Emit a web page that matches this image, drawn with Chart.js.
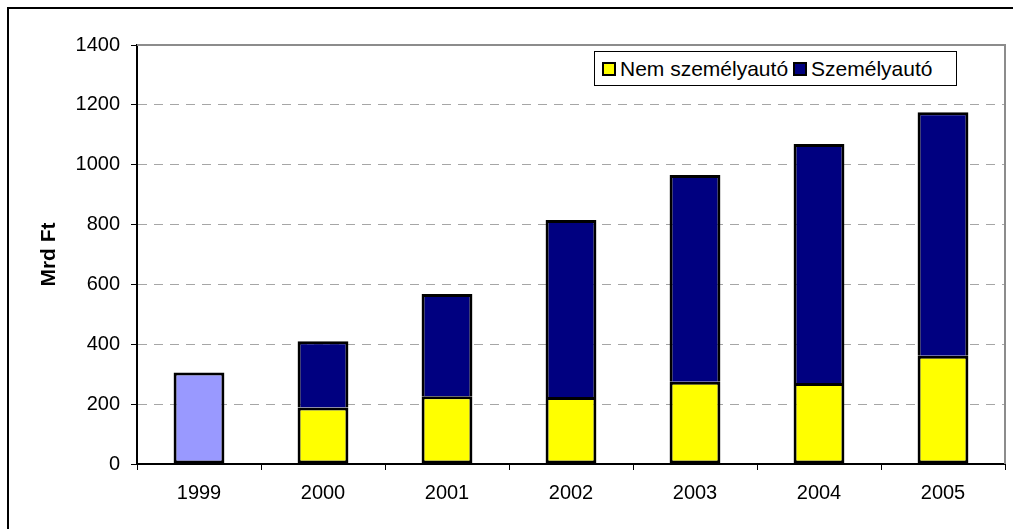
<!DOCTYPE html>
<html lang="hu">
<head>
<meta charset="utf-8">
<title>Mrd Ft</title>
<script src="https://cdn.jsdelivr.net/npm/chart.js@4/dist/chart.umd.min.js"></script>
<style>
  html, body { margin: 0; padding: 0; background: #fff; }
  #wrap { position: relative; width: 1013px; height: 529px; overflow: hidden; }
  #frame { position: absolute; left: 7px; top: 7px; width: 1030px; height: 540px; border: 2px solid #000; box-sizing: border-box; pointer-events: none; }
  #chart { position: absolute; left: 0; top: 0; }
  #legend {
    position: absolute; left: 594px; top: 51px; width: 363px; height: 35px;
    border: 1px solid #000; box-sizing: border-box; background: #fff;
    font: 21px Arial, "Liberation Sans", sans-serif; color: #000;
    display: flex; align-items: center; padding-left: 7px; white-space: nowrap;
  }
  #legend .item { display: flex; align-items: center; margin-right: 5px; }
  #legend .box { width: 14px; height: 14px; border: 2px solid #000; box-sizing: border-box; margin-right: 4px; }
</style>
</head>
<body>
<div id="wrap">
  <canvas id="chart" width="1013" height="529"></canvas>
  <div id="legend"></div>
  <div id="frame"></div>
</div>
<script>
// years on the x axis
const years = ['1999', '2000', '2001', '2002', '2003', '2004', '2005'];
// 1999: only the total is known
const total1999 = [306, null, null, null, null, null, null];
// Mrd Ft
const nemSzemelyauto = [null, 189, 226, 224, 275, 271, 362];
const szemelyauto = [null, 221, 342, 591, 691, 798, 813];
const yTicks = [0, 200, 400, 600, 800, 1000, 1200, 1400];

const FONT = 'Arial, "Liberation Sans", sans-serif';

// grey frame on top and right of the plot area
const plotFrame = {
  id: 'plotFrame',
  afterDatasetsDraw(chart) {
    const { ctx, chartArea: a } = chart;
    ctx.save();
    ctx.strokeStyle = '#8c8c8c';
    ctx.lineWidth = 2;
    ctx.beginPath();
    ctx.moveTo(a.left, a.top);
    ctx.lineTo(a.right, a.top);
    ctx.lineTo(a.right, a.bottom);
    ctx.stroke();
    ctx.restore();
  }
};

const chart = new Chart(document.getElementById('chart'), {
  type: 'bar',
  data: {
    labels: years,
    datasets: [
      {
        label: 'Összesen',
        data: total1999,
        backgroundColor: '#9999ff',
        borderColor: '#000',
        borderWidth: 3,
        borderSkipped: false,
        showInLegend: false
      },
      {
        label: 'Nem személyautó',
        data: nemSzemelyauto,
        backgroundColor: '#ffff00',
        borderColor: '#000',
        borderWidth: 3,
        borderSkipped: false
      },
      {
        label: 'Személyautó',
        data: szemelyauto,
        backgroundColor: '#000080',
        borderColor: '#000',
        borderWidth: 3
      }
    ]
  },
  options: {
    responsive: false,
    animation: false,
    layout: { padding: { top: 45, right: 8, left: 0, bottom: 0 } },
    datasets: { bar: { barPercentage: 0.41, categoryPercentage: 1 } },
    plugins: {
      legend: { display: false },
      tooltip: { enabled: false }
    },
    scales: {
      x: {
        stacked: true,
        afterFit: s => { s.height = 65; },
        grid: {
          offset: true,
          drawOnChartArea: false,
          drawTicks: true,
          tickLength: 6,
          tickColor: '#000',
          tickWidth: 1
        },
        border: { display: true, color: '#000', width: 2 },
        ticks: { color: '#000', font: { family: FONT, size: 20 }, padding: 11, maxRotation: 0 }
      },
      y: {
        stacked: true,
        min: 0,
        max: 1400,
        afterFit: s => { s.width = 137; },
        afterBuildTicks: s => { s.ticks = yTicks.map(v => ({ value: v })); },
        grid: {
          color: c => (c.tick && (c.tick.value === 0 || c.tick.value === 1400)) ? 'rgba(0,0,0,0)' : '#a6a6a6',
          lineWidth: 1,
          tickLength: 6,
          tickColor: '#000',
          tickWidth: 1,
          tickBorderDash: []
        },
        border: { display: true, color: '#000', width: 2, dash: [9, 7] },
        ticks: {
          color: '#000',
          font: { family: FONT, size: 20 },
          padding: 11,
          callback: v => String(v)
        },
        title: {
          display: true,
          text: 'Mrd Ft',
          color: '#000',
          font: { family: FONT, size: 21, weight: 'bold' },
          padding: { top: 37, bottom: 0 }
        }
      }
    }
  },
  plugins: [plotFrame]
});

// legend box inside the plot area
const legendEl = document.getElementById('legend');
chart.data.datasets.filter(d => d.showInLegend !== false).forEach(d => {
  const item = document.createElement('span');
  item.className = 'item';
  item.innerHTML = `<span class="box" style="background:${d.backgroundColor}"></span><span>${d.label}</span>`;
  legendEl.appendChild(item);
});
</script>
</body>
</html>
